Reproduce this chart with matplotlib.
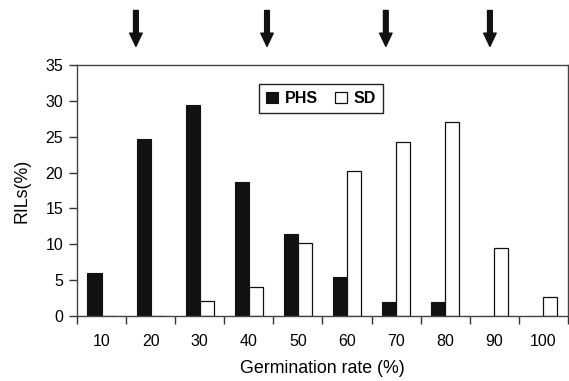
import numpy as np
import matplotlib
matplotlib.use("Agg")
import matplotlib.pyplot as plt

plt.rcParams['font.family'] = ['Liberation Sans', 'DejaVu Sans']

# germination rate classes (%)
rates = [10, 20, 30, 40, 50, 60, 70, 80, 90, 100]
tick_labels = [str(r) for r in rates]
phs = [6.0, 24.7, 29.4, 18.7, 11.4, 5.5, 2.0, 2.0, 0, 0]
sd = [0, 0, 2.1, 4.1, 10.2, 20.2, 24.2, 27.0, 9.5, 2.7]
# arrow positions above the plot, in germination-rate units
arrow_x = [17, 43.7, 67.9, 89.1]

fig = plt.figure(figsize=(5.69, 3.81), dpi=100)
ax = fig.add_axes([0.1353, 0.1706, 0.8629, 0.6588])

x = np.array(rates, dtype=float)
w = 2.86
ax.bar(x - w / 2, phs, width=w, color='#111111', edgecolor='#111111', linewidth=0.8, label='PHS')
ax.bar(x + w / 2, sd, width=w, color='white', edgecolor='#111111', linewidth=0.9, label='SD')

ax.set_xlim(5, 105)
ax.set_ylim(0, 35)
ax.set_yticks(np.arange(0, 36, 5))
ax.set_xticks(rates)
ax.set_xticklabels(tick_labels)
ax.set_xticks(np.arange(5, 106, 10), minor=True)
ax.tick_params(axis='x', which='major', length=0, pad=13, labelsize=11.5)
ax.tick_params(axis='x', which='minor', length=6, width=1, color='#333333', direction='out')
ax.tick_params(axis='y', length=6, width=1, color='#333333', pad=4, labelsize=11.5)

for s in ax.spines.values():
    s.set_color('#444444')
    s.set_linewidth(1)

ax.set_xlabel('Germination rate (%)', fontsize=12.8, labelpad=8)
ax.set_ylabel('RILs(%)', fontsize=12.8, labelpad=11)

leg = ax.legend(loc='upper center', bbox_to_anchor=(0.497, 0.925), ncol=2, frameon=True,
                fancybox=False, edgecolor='#222222', framealpha=1,
                prop={'weight': 'bold', 'size': 11.5}, handlelength=0.75, handleheight=0.75,
                handletextpad=0.4, columnspacing=1.1, borderpad=0.45, borderaxespad=0)
leg.get_frame().set_linewidth(1)

for ax_x in arrow_x:
    ax.annotate('', xy=(ax_x, 37.6), xytext=(ax_x, 42.6), xycoords='data',
                arrowprops=dict(facecolor='#111111', edgecolor='#111111', width=3.4,
                                headwidth=9, headlength=9.5, shrink=0),
                annotation_clip=False)

fig.savefig('out.png', dpi=100)
